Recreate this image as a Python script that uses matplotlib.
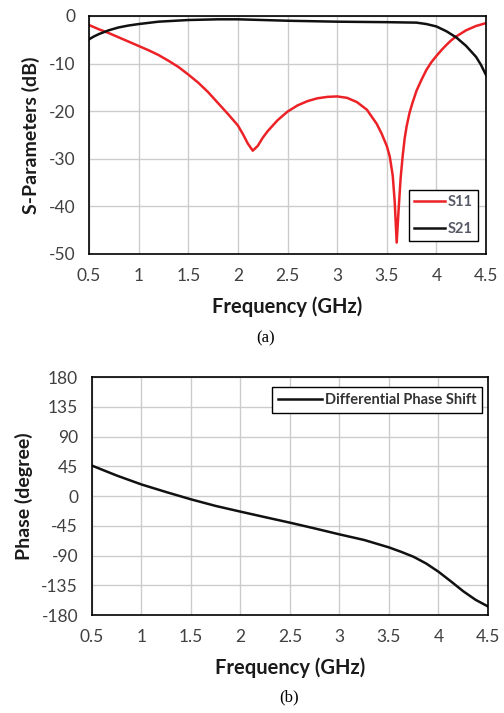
import matplotlib.pyplot as plt

plt.rcParams['font.family'] = ['Lato', 'DejaVu Sans']
plt.rcParams['axes.unicode_minus'] = False

# S11 / S21 (dB) versus frequency (GHz)
freq_s11 = [0.5, 0.6, 0.7, 0.8, 0.9, 1.0, 1.1, 1.2, 1.3, 1.4, 1.5, 1.6, 1.7, 1.8, 1.9, 2.0, 2.05, 2.1, 2.15,
            2.2, 2.25, 2.3, 2.4, 2.5, 2.6, 2.7, 2.8, 2.9, 3.0, 3.1, 3.2, 3.3, 3.4, 3.45, 3.5,
            3.53, 3.56, 3.58, 3.6, 3.62, 3.64, 3.66, 3.68, 3.7, 3.73, 3.76, 3.8, 3.85, 3.9, 3.95,
            4.0, 4.05, 4.1, 4.15, 4.2, 4.3, 4.4, 4.5]
s11 = [-1.9, -2.8, -3.6, -4.5, -5.4, -6.3, -7.2, -8.2, -9.4, -10.7, -12.3, -14.0, -16.0, -18.3, -20.6, -23.0, -24.8, -26.8, -28.3,
       -27.3, -25.6, -24.2, -21.9, -20.1, -18.8, -17.9, -17.3, -17.0, -16.9, -17.2, -18.1, -19.7, -22.7, -24.8, -27.3,
       -29.5, -33.5, -39.0, -47.6, -40.5, -34.0, -29.5, -25.8, -23.2, -20.3, -18.2, -15.7, -13.4, -11.3, -9.7,
       -8.4, -7.2, -6.1, -5.1, -4.3, -3.0, -2.1, -1.5]

freq_s21 = [0.5, 0.55, 0.6, 0.65, 0.7, 0.8, 0.9, 1.0, 1.2, 1.5, 1.8, 2.0, 2.5, 3.0, 3.5, 3.8, 3.9, 4.0, 4.1,
            4.2, 4.3, 4.4, 4.45, 4.5]
s21 = [-4.9, -4.3, -3.8, -3.4, -3.0, -2.4, -2.0, -1.7, -1.2, -0.85, -0.7, -0.7, -1.0, -1.2, -1.3, -1.4, -1.7, -2.2, -3.2,
       -4.5, -6.3, -8.6, -10.3, -12.4]

# differential phase shift (degree)
freq_ph = [0.5, 0.75, 1.0, 1.25, 1.5, 1.75, 2.0, 2.25, 2.5, 2.75, 3.0, 3.25, 3.5, 3.625, 3.75, 3.875,
           4.0, 4.125, 4.25, 4.375, 4.5]
phase = [46.0, 31.0, 17.5, 6.0, -5.0, -15.0, -23.6, -32.0, -40.3, -49.0, -58.0, -66.5, -77.7, -84.5, -92.0, -102.0,
         -114.5, -129.0, -144.0, -157.0, -167.0]

x_ticks = [0.5, 1, 1.5, 2, 2.5, 3, 3.5, 4, 4.5]
x_labels = ['0.5', '1', '1.5', '2', '2.5', '3', '3.5', '4', '4.5']

fig = plt.figure(figsize=(5.04, 7.13), dpi=100)
ax1 = fig.add_axes([0.1766, 0.6438, 0.7877, 0.3338])
ax2 = fig.add_axes([0.1825, 0.1374, 0.7857, 0.3338])

tick_color = '#404040'
label_color = '#1a1a1a'


def style_axes(ax):
    ax.set_xlim(0.5, 4.5)
    ax.set_xticks(x_ticks)
    ax.set_xticklabels(x_labels)
    ax.grid(True, color='#cccccc', linewidth=1.0)
    ax.set_axisbelow(True)
    ax.tick_params(length=0, labelsize=12.5, labelcolor=tick_color, pad=10)
    ax.tick_params(axis='x', pad=10)
    for sp in ax.spines.values():
        sp.set_color('black')
        sp.set_linewidth(1.2)
    ax.set_xlabel('Frequency (GHz)', fontsize=14.5, fontweight='bold', color=label_color, labelpad=9)


ax1.plot(freq_s11, s11, color='#ec2227', linewidth=1.8, label='S11')
ax1.plot(freq_s21, s21, color='#111111', linewidth=1.8, label='S21')
ax1.set_ylim(-50, 0)
ax1.set_yticks(range(-50, 1, 10))
style_axes(ax1)
ax1.set_ylabel('S-Parameters (dB)', fontsize=14, fontweight='bold', color=label_color, labelpad=6)
leg1 = ax1.legend(loc='lower right', bbox_to_anchor=(0.98, 0.055), borderaxespad=0, fancybox=False,
                  framealpha=1, edgecolor='black', fontsize=10.5, handlelength=2.1, handletextpad=0.2,
                  borderpad=0.35, labelspacing=0.85)
leg1.get_frame().set_linewidth(1.0)
for t in leg1.get_texts():
    t.set_color('#555a66')
    t.set_fontweight('bold')

ax2.plot(freq_ph, phase, color='#111111', linewidth=1.8, label='Differential Phase Shift')
ax2.set_ylim(-180, 180)
ax2.set_yticks(range(-180, 181, 45))
style_axes(ax2)
ax2.set_ylabel('Phase (degree)', fontsize=14, fontweight='bold', color=label_color, labelpad=6)
leg2 = ax2.legend(loc='upper right', bbox_to_anchor=(0.985, 0.958), borderaxespad=0, fancybox=False,
                  framealpha=1, edgecolor='black', fontsize=10.5, handlelength=3.0, handletextpad=0.2,
                  borderpad=0.4)
leg2.get_frame().set_linewidth(1.0)
for t in leg2.get_texts():
    t.set_color('#333333')
    t.set_fontweight('bold')

fig.text(0.526, 1 - 338 / 713, '(a)', ha='center', va='center', fontsize=12, family='Liberation Serif')
fig.text(0.573, 1 - 697 / 713, '(b)', ha='center', va='center', fontsize=12, family='Liberation Serif')

fig.savefig('out.png', dpi=100)
